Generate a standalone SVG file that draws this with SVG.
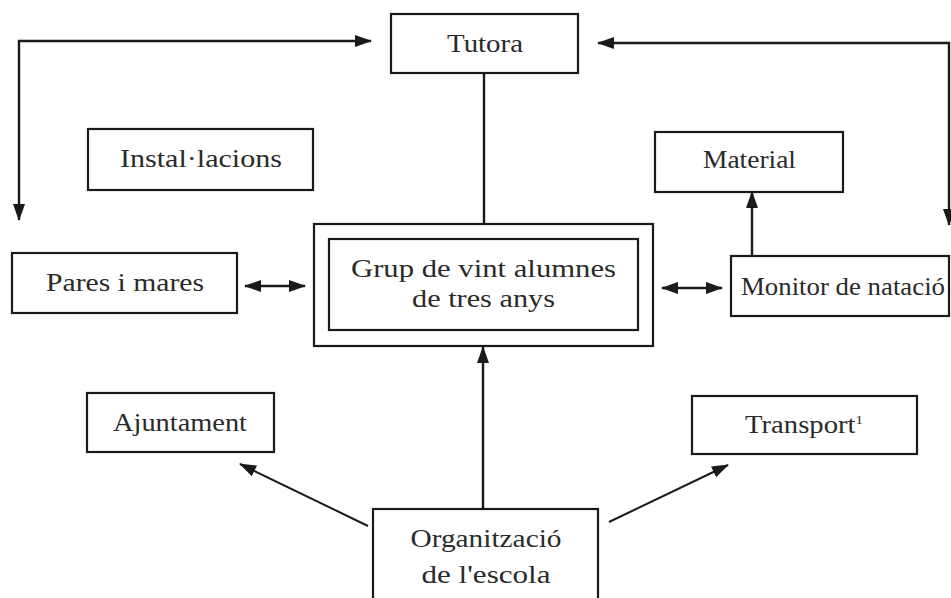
<svg xmlns="http://www.w3.org/2000/svg" width="951" height="598" viewBox="0 0 951 598">
<style>
.box{fill:none;stroke:#1a1a1a;stroke-width:2.2}
.t{font-family:"Liberation Serif","Times New Roman",serif;font-size:25px;fill:#2a2a2a;text-anchor:middle}
.c{fill:none;stroke:#1a1a1a;stroke-width:2.4}
.d{fill:none;stroke:#1a1a1a;stroke-width:2}
</style>
<defs>
<marker id="ah" markerUnits="userSpaceOnUse" markerWidth="18" markerHeight="14" refX="16" refY="6" orient="auto-start-reverse" viewBox="0 0 18 12">
<path d="M0,0 L17,6 L0,12 Z" fill="#1a1a1a"/>
</marker>
</defs>
<rect width="951" height="598" fill="#fff"/>
<g id="tutora"><rect class="box" x="391" y="14" width="187" height="59"/><text class="t" x="485" y="52" textLength="76" lengthAdjust="spacingAndGlyphs">Tutora</text></g>
<g id="installacions"><rect class="box" x="88" y="129" width="225" height="61"/><text class="t" x="201" y="167" textLength="162" lengthAdjust="spacingAndGlyphs">Instal·lacions</text></g>
<g id="material"><rect class="box" x="655" y="132" width="188" height="60"/><text class="t" x="749.5" y="168" textLength="93" lengthAdjust="spacingAndGlyphs">Material</text></g>
<g id="pares"><rect class="box" x="12" y="253" width="225" height="60"/><text class="t" x="125" y="291" textLength="158" lengthAdjust="spacingAndGlyphs">Pares i mares</text></g>
<g id="grup"><rect class="box" x="314" y="224" width="339" height="122"/><rect class="box" x="329" y="239" width="309" height="91"/><text class="t" x="483.5" y="277" textLength="265" lengthAdjust="spacingAndGlyphs">Grup de vint alumnes</text><text class="t" x="483.5" y="307" textLength="143" lengthAdjust="spacingAndGlyphs">de tres anys</text></g>
<g id="monitor"><rect class="box" x="731" y="256" width="218" height="60"/><text class="t" x="843" y="295" textLength="204" lengthAdjust="spacingAndGlyphs">Monitor de natació</text></g>
<g id="ajuntament"><rect class="box" x="87" y="393" width="187" height="59"/><text class="t" x="180" y="431" textLength="134" lengthAdjust="spacingAndGlyphs">Ajuntament</text></g>
<g id="transport"><rect class="box" x="692" y="396" width="225" height="58"/><text class="t" x="804" y="433" textLength="118" lengthAdjust="spacingAndGlyphs">Transport<tspan font-size="13" dy="-9">1</tspan></text></g>
<g id="organitzacio"><rect class="box" x="373" y="509" width="225" height="95"/><text class="t" x="486" y="547" textLength="151" lengthAdjust="spacingAndGlyphs">Organització</text><text class="t" x="486" y="583" textLength="129" lengthAdjust="spacingAndGlyphs">de l'escola</text></g>
<g id="connectors">
<polyline class="c" points="371,41 19,41 19,220" marker-start="url(#ah)" marker-end="url(#ah)"/>
<polyline class="c" points="598,43 949,43 949,225" marker-start="url(#ah)" marker-end="url(#ah)"/>
<line class="c" x1="484" y1="73" x2="484" y2="224"/>
<line class="c" x1="245" y1="286" x2="305" y2="286" marker-start="url(#ah)" marker-end="url(#ah)"/>
<line class="c" x1="662" y1="288" x2="722" y2="288" marker-start="url(#ah)" marker-end="url(#ah)"/>
<line class="c" x1="752" y1="256" x2="752" y2="192" marker-end="url(#ah)"/>
<line class="c" x1="483" y1="509" x2="483" y2="347" marker-end="url(#ah)"/>
<line class="d" x1="368" y1="526" x2="240" y2="464" marker-end="url(#ah)"/>
<line class="d" x1="609" y1="522" x2="728" y2="465" marker-end="url(#ah)"/>
</g>
</svg>
